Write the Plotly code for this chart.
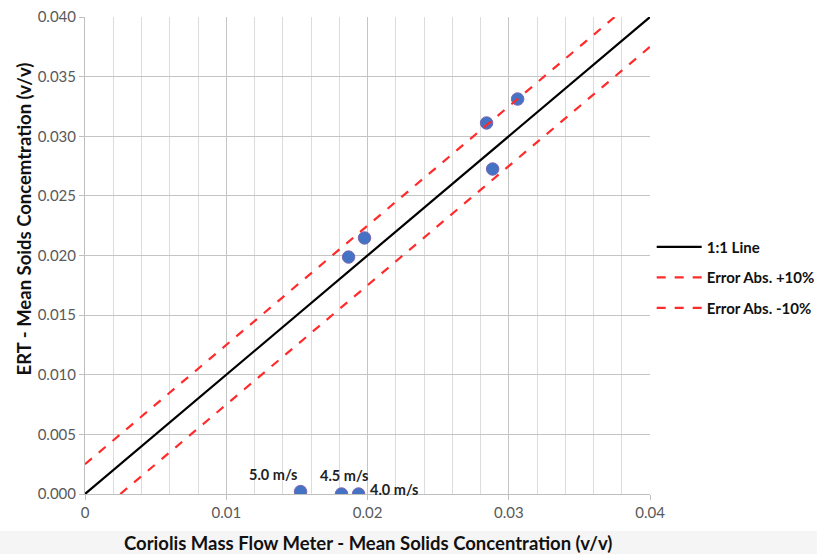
import plotly.graph_objects as go

# Data
coriolis = [0.01526, 0.01816, 0.01937, 0.01866, 0.01979, 0.02843, 0.02886, 0.03063]
ert = [0.0002, 0.0, 0.0, 0.01987, 0.02147, 0.03111, 0.02725, 0.03312]

label_text = ["5.0 m/s", "4.5 m/s", "4.0 m/s"]
label_x = [0.01526, 0.01816, 0.01937]
label_y = [0.0002, 0.0, 0.0]
label_dx = [-28, 2, 35]
label_dy = [17, 19, 5]

line11_x = [0.0, 0.04]
line11_y = [0.0, 0.04]
plus_x = [0.0, 0.0375]
plus_y = [0.0025, 0.04]
minus_x = [0.0025, 0.04]
minus_y = [0.0, 0.0375]

xtick_vals = [0, 0.01, 0.02, 0.03, 0.04]
xtick_text = ["0", "0.01", "0.02", "0.03", "0.04"]

FONT = "Lato"

fig = go.Figure()
fig.add_trace(go.Scatter(x=coriolis, y=ert, mode="markers", showlegend=False,
                         marker=dict(size=12.5, color="#4472C4",
                                     line=dict(color="#7a68b0", width=1))))
fig.add_trace(go.Scatter(x=line11_x, y=line11_y, mode="lines", name="<b>1:1 Line</b>",
                         legendgroup="a", line=dict(color="black", width=2.2)))
fig.add_trace(go.Scatter(x=plus_x, y=plus_y, mode="lines", name="<b>Error Abs. +10%</b>",
                         legendgroup="b", line=dict(color="#ff2a2a", width=2.2, dash="dash")))
fig.add_trace(go.Scatter(x=minus_x, y=minus_y, mode="lines", name="<b>Error Abs. -10%</b>",
                         legendgroup="c", line=dict(color="#ff2a2a", width=2.2, dash="dash")))

annotations = []
for t, x, y, dx, dy in zip(label_text, label_x, label_y, label_dx, label_dy):
    annotations.append(dict(x=x, y=y, xref="x", yref="y", text="<b>%s</b>" % t,
                            showarrow=False, xshift=dx, yshift=dy,
                            font=dict(family=FONT, size=14.5, color="#222222")))
annotations.append(dict(x=(25 - 85.5) / 564.5, y=(494 - 219) / 477.0, xref="paper", yref="paper",
                        text="<b>ERT - Mean Soids Concemtration (v/v)</b>",
                        textangle=-90, showarrow=False, xanchor="center", yanchor="middle",
                        font=dict(family=FONT, size=18.5, color="#111111")))
annotations.append(dict(x=0.5, y=(494 - 543) / 477.0, xref="paper", yref="paper",
                        text="<b>Coriolis Mass Flow Meter - Mean Solids Concentration (v/v)</b>",
                        showarrow=False, xanchor="center", yanchor="middle",
                        font=dict(family=FONT, size=18.5, color="#111111")))

fig.update_layout(
    width=817, height=554,
    margin=dict(l=85, r=167, t=17, b=60, autoexpand=False),
    paper_bgcolor="white", plot_bgcolor="white",
    font=dict(family=FONT, size=14, color="#595959"),
    annotations=annotations,
    legend=dict(x=1.003, y=0.552, xanchor="left", yanchor="top",
                traceorder="grouped", tracegroupgap=8, itemwidth=45,
                font=dict(family=FONT, size=15, color="#111111"),
                bgcolor="rgba(0,0,0,0)"),
    shapes=[dict(type="rect", xref="paper", yref="paper", x0=-0.2, x1=1.4,
                 y0=(494 - 531) / 477.0, y1=(494 - 560) / 477.0,
                 fillcolor="#f5f5f5", line=dict(width=0), layer="below")],
)
fig.update_xaxes(range=[0, 0.04], tickvals=xtick_vals, ticktext=xtick_text,
                 showgrid=True, gridcolor="#c4c4c4", gridwidth=1,
                 minor=dict(dtick=0.002, showgrid=True, gridcolor="#dcdcdc", gridwidth=1),
                 ticks="outside", ticklen=5, tickcolor="#bfbfbf",
                 showline=True, linecolor="#bfbfbf", linewidth=1, mirror=False,
                 zeroline=False, fixedrange=True, automargin=False,
                 tickfont=dict(color="#595959", size=15))
fig.update_yaxes(range=[0, 0.04], dtick=0.005, tickformat=".3f",
                 showgrid=True, gridcolor="#c4c4c4", gridwidth=1,
                 ticks="outside", ticklen=5, tickcolor="#bfbfbf",
                 showline=True, linecolor="#bfbfbf", linewidth=1,
                 zeroline=False, fixedrange=True, automargin=False,
                 tickfont=dict(color="#595959", size=15))

fig.write_html("out.html", config={"displayModeBar": False},
               post_script="document.body.style.margin='0';document.body.style.overflow='hidden';")
